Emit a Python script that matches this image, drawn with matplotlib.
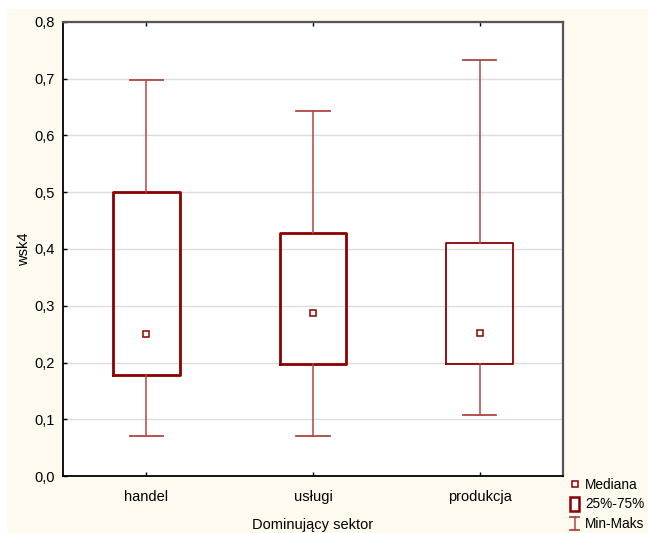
import matplotlib
matplotlib.use("Agg")
import matplotlib.pyplot as plt
from matplotlib.patches import Rectangle
from matplotlib.lines import Line2D
from matplotlib.legend_handler import HandlerBase

plt.rcParams['font.family'] = ['Liberation Sans', 'DejaVu Sans']

categories = ["handel", "usługi", "produkcja"]
minimum = [0.071, 0.071, 0.107]
q1 = [0.178, 0.197, 0.197]
median = [0.251, 0.287, 0.252]
q3 = [0.500, 0.428, 0.410]
maximum = [0.697, 0.643, 0.733]
yticks = [0.0, 0.1, 0.2, 0.3, 0.4, 0.5, 0.6, 0.7, 0.8]
ytick_labels = ["0,0", "0,1", "0,2", "0,3", "0,4", "0,5", "0,6", "0,7", "0,8"]

box_color = "#8B0000"
whisk_color = "#B04545"
cream = "#FEFAF0"
fs = 10.5

W, H = 648, 533
fig = plt.figure(figsize=(W / 100, H / 100), dpi=100)
fig.patch.set_facecolor("white")
bg = Rectangle((7 / W, 0), 1 - 7 / W, 1 - 9 / H, transform=fig.transFigure,
               facecolor=cream, edgecolor="none", zorder=-10)
fig.patches.append(bg)

ax = fig.add_axes([63 / W, (H - 476) / H, 500 / W, (476 - 22) / H])
ax.set_zorder(1)
ax.set_facecolor("white")

stats = []
for i, c in enumerate(categories):
    stats.append(dict(label=c, med=median[i], q1=q1[i], q3=q3[i],
                      whislo=minimum[i], whishi=maximum[i], fliers=[]))

pos = [1, 2, 3]
bp = ax.bxp(stats, positions=pos, widths=0.4, capwidths=0.2, showfliers=False,
            boxprops=dict(color=box_color, linewidth=2.0),
            whiskerprops=dict(color=whisk_color, linewidth=1.1),
            capprops=dict(color=whisk_color, linewidth=1.3),
            medianprops=dict(linestyle="none"), zorder=3)
bp["boxes"][2].set_linewidth(1.3)

ax.plot(pos, median, linestyle="none", marker="s", markersize=4.3,
        markerfacecolor="white", markeredgecolor=box_color, markeredgewidth=1.1, zorder=4)

ax.set_xlim(0.5, 3.5)
ax.set_ylim(0, 0.8)
ax.set_yticks(yticks)
ax.set_yticklabels(ytick_labels, fontsize=fs)
ax.set_xticks(pos)
ax.set_xticklabels(categories, fontsize=fs)
ax.tick_params(axis="both", direction="in", length=3, width=1, color="black")
ax.tick_params(axis="x", top=True, pad=10)
ax.tick_params(axis="y", pad=6)
ax.yaxis.grid(True, color="#DCDCDC", linewidth=1)
ax.set_axisbelow(True)

for s in ["left", "bottom"]:
    ax.spines[s].set_color("black")
    ax.spines[s].set_linewidth(1.3)
for s in ["top", "right"]:
    ax.spines[s].set_color("#555555")
    ax.spines[s].set_linewidth(1.6)

ax.set_xlabel("Dominujący sektor", fontsize=fs, labelpad=10)
ax.set_ylabel("wsk4", fontsize=fs, labelpad=2)


class MinMaxHandler(HandlerBase):
    def create_artists(self, legend, orig_handle, xdescent, ydescent, width, height, fontsize, trans):
        cx = width / 2 - xdescent
        y0 = -ydescent - 2
        y1 = height - ydescent + 1
        cw = width * 0.4
        arts = [Line2D([cx, cx], [y0, y1], color=whisk_color, lw=1.1),
                Line2D([cx - cw, cx + cw], [y0, y0], color=whisk_color, lw=1.3),
                Line2D([cx - cw, cx + cw], [y1, y1], color=whisk_color, lw=1.3)]
        for a in arts:
            a.set_transform(trans)
        return arts


class BoxHandler(HandlerBase):
    def create_artists(self, legend, orig_handle, xdescent, ydescent, width, height, fontsize, trans):
        cx = width / 2 - xdescent
        w = width * 0.8
        r = Rectangle((cx - w / 2, -ydescent - 2), w, height + 3, facecolor="white",
                      edgecolor=box_color, lw=1.8, transform=trans)
        return [r]


class MMKey:
    pass


h_med = Line2D([], [], linestyle="none", marker="s", markersize=4.3,
               markerfacecolor="white", markeredgecolor=box_color, markeredgewidth=1.1)
h_box = Rectangle((0, 0), 1, 1)
h_mm = MMKey()

fig.legend([h_med, h_box, h_mm], ["Mediana", "25%-75%", "Min-Maks"],
           handler_map={Rectangle: BoxHandler(), MMKey: MinMaxHandler()},
           loc="upper left", bbox_to_anchor=(566 / W, 1 - 475 / H), frameon=False,
           fontsize=9.8, handlelength=0.85, handletextpad=0.35, labelspacing=0.4,
           borderaxespad=0, borderpad=0.2)

fig.savefig("out.png", dpi=100, facecolor=fig.get_facecolor())
